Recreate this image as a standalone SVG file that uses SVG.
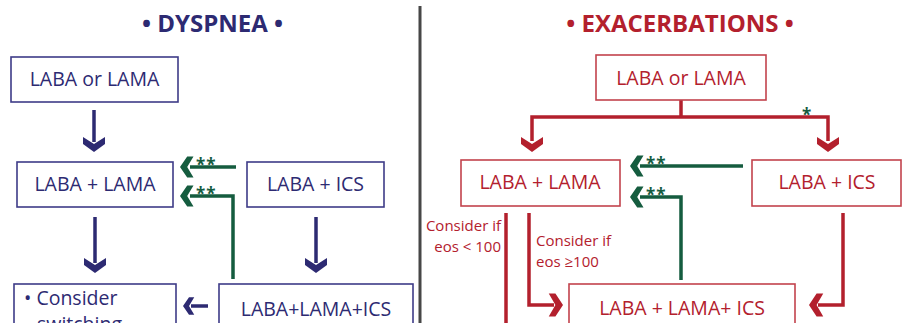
<svg xmlns="http://www.w3.org/2000/svg" xmlns:xlink="http://www.w3.org/1999/xlink" width="917" height="323" viewBox="0 0 917 323">
  <style>
    text { font-family: "Open Sans", "Liberation Sans", sans-serif; }
    .title { font-size: 24px; font-weight: bold; text-anchor: middle; }
    .lbl { font-size: 19.5px; text-anchor: middle; }
    .note { font-size: 15px; }
    .navy { fill: #2d2a72; }
    .red { fill: #b3202d; }
    .green { fill: #155c3f; }
    .boxN { fill: #fff; stroke: #3e3b88; stroke-width: 1.6; }
    .boxR { fill: #fff; stroke: #c2434d; stroke-width: 1.6; }
    .lnN { fill: none; stroke: #2d2a72; stroke-width: 3.5; }
    .lnR { fill: none; stroke: #b3202d; stroke-width: 3.5; }
    .lnG { fill: none; stroke: #155c3f; stroke-width: 3.5; }
    .star { font-size: 17px; font-weight: bold; fill: #155c3f; letter-spacing: 1px; }
  </style>
  <defs>
    <!-- chevron head pointing down, tip at the origin -->
    <path id="chev" d="M-11,-15 L0,-8 L11,-15 L11,-8 L0,0 L-11,-8 Z"/>
  </defs>

  <!-- divider -->
  <line x1="420" y1="6" x2="420" y2="323" stroke="#474747" stroke-width="3"/>

  <!-- headings -->
  <text class="title navy" x="212.5" y="32">• DYSPNEA •</text>
  <text class="title red" x="680" y="32">• EXACERBATIONS •</text>

  <!-- connectors -->
  <g id="connectors">
    <!-- dyspnea side -->
    <line class="lnN" x1="94" y1="110" x2="94" y2="142"/>
    <use xlink:href="#chev" class="navy" transform="translate(94,152)"/>
    <line class="lnN" x1="95" y1="217" x2="95" y2="263"/>
    <use xlink:href="#chev" class="navy" transform="translate(95,273)"/>
    <line class="lnN" x1="316" y1="217" x2="316" y2="263"/>
    <use xlink:href="#chev" class="navy" transform="translate(316,273)"/>
    <line class="lnN" x1="191" y1="306" x2="208" y2="306"/>
    <use xlink:href="#chev" class="navy" transform="translate(183,306) rotate(90) scale(0.8,0.75)"/>

    <polyline class="lnG" points="190,167 236,167"/>
    <use xlink:href="#chev" class="green" transform="translate(180,167) rotate(90) scale(0.95,0.9)"/>
    <polyline class="lnG" points="190,196 233,196 233,279"/>
    <use xlink:href="#chev" class="green" transform="translate(180,196) rotate(90) scale(0.95,0.9)"/>
    <text class="star" x="196" y="171">**</text>
    <text class="star" x="196" y="200">**</text>

    <!-- exacerbations side -->
    <polyline class="lnR" points="681,100 681,117"/>
    <polyline class="lnR" points="532,141 532,117 828,117 828,141"/>
    <use xlink:href="#chev" class="red" transform="translate(532,152)"/>
    <use xlink:href="#chev" class="red" transform="translate(828,152)"/>
    <text class="star" x="802" y="121">*</text>

    <polyline class="lnG" points="640,166 743,166"/>
    <use xlink:href="#chev" class="green" transform="translate(630,166) rotate(90) scale(0.95,0.9)"/>
    <polyline class="lnG" points="640,197 681,197 681,280"/>
    <use xlink:href="#chev" class="green" transform="translate(630,197) rotate(90) scale(0.95,0.9)"/>
    <text class="star" x="646" y="170">**</text>
    <text class="star" x="646" y="201">**</text>

    <line class="lnR" x1="506" y1="213" x2="506" y2="323"/>
    <polyline class="lnR" points="529,213 529,305 554,305"/>
    <use xlink:href="#chev" class="red" transform="translate(563,305) rotate(-90) scale(1.05,0.95)"/>
    <polyline class="lnR" points="843,213 843,305 818,305"/>
    <use xlink:href="#chev" class="red" transform="translate(809,305) rotate(90) scale(1.05,0.95)"/>

    <text class="note red" text-anchor="end" x="501" y="231">Consider if</text>
    <text class="note red" text-anchor="end" x="501" y="252">eos &lt; 100</text>
    <text class="note red" x="536" y="246">Consider if</text>
    <text class="note red" x="536" y="267">eos ≥100</text>
  </g>

  <!-- dyspnea nodes -->
  <g id="d-laba-or-lama">
    <rect class="boxN" x="11" y="57" width="167" height="45"/>
    <text class="lbl navy" x="94.5" y="86">LABA or LAMA</text>
  </g>
  <g id="d-laba-lama">
    <rect class="boxN" x="17" y="162" width="156" height="45"/>
    <text class="lbl navy" x="95" y="191">LABA + LAMA</text>
  </g>
  <g id="d-laba-ics">
    <rect class="boxN" x="247" y="162" width="137" height="45"/>
    <text class="lbl navy" x="315.5" y="191">LABA + ICS</text>
  </g>
  <g id="d-consider">
    <rect class="boxN" x="14" y="284" width="162" height="60"/>
    <text class="lbl navy" style="text-anchor:start" x="24" y="305">• Consider</text>
    <text class="lbl navy" style="text-anchor:start" x="37" y="331">switching</text>
  </g>
  <g id="d-triple">
    <rect class="boxN" x="219" y="284" width="194" height="60"/>
    <text class="lbl navy" x="316" y="316">LABA+LAMA+ICS</text>
  </g>

  <!-- exacerbation nodes -->
  <g id="e-laba-or-lama">
    <rect class="boxR" x="596" y="55" width="170" height="45"/>
    <text class="lbl red" x="681" y="85">LABA or LAMA</text>
  </g>
  <g id="e-laba-lama">
    <rect class="boxR" x="461" y="160" width="159" height="46"/>
    <text class="lbl red" x="540" y="189">LABA + LAMA</text>
  </g>
  <g id="e-laba-ics">
    <rect class="boxR" x="752" y="160" width="149" height="46"/>
    <text class="lbl red" x="827" y="189">LABA + ICS</text>
  </g>
  <g id="e-triple">
    <rect class="boxR" x="569" y="284" width="226" height="60"/>
    <text class="lbl red" x="682" y="315">LABA + LAMA+ ICS</text>
  </g>
</svg>
